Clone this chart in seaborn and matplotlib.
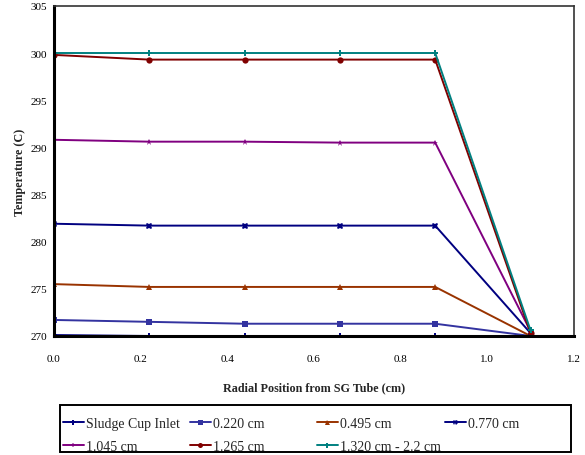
import pandas as pd
import matplotlib.pyplot as plt
import matplotlib.patches as mpatches
import seaborn as sns

# radial positions (cm)
radial_pos = [0.0, 0.22, 0.44, 0.66, 0.88, 1.1]

# temperatures (C) for each sludge height
sludge_inlet = [270.1, 270.0, 270.0, 270.0, 270.0, 270.0]
h_0220 = [271.7, 271.5, 271.3, 271.3, 271.3, 270.0]
h_0495 = [275.5, 275.2, 275.2, 275.2, 275.2, 270.0]
h_0770 = [281.9, 281.7, 281.7, 281.7, 281.7, 270.3]
h_1045 = [290.8, 290.6, 290.6, 290.5, 290.5, 270.5]
h_1265 = [299.8, 299.3, 299.3, 299.3, 299.3, 270.3]
h_1320 = [300.0, 300.0, 300.0, 300.0, 300.0, 270.6]

labels = ['Sludge Cup Inlet', '0.220 cm', '0.495 cm', '0.770 cm',
          '1.045 cm', '1.265 cm', '1.320 cm - 2.2 cm']
series = [sludge_inlet, h_0220, h_0495, h_0770, h_1045, h_1265, h_1320]

rows = []
for lab, vals in zip(labels, series):
    for x, y in zip(radial_pos, vals):
        rows.append({'pos': x, 'temp': y, 'height': lab})
df = pd.DataFrame(rows)

colors = ['#000080', '#3333A0', '#993300', '#000080', '#800080', '#800000', '#008080']
markers = ['P', 's', '^', 'X', '*', 'o', 'P']
palette = dict(zip(labels, colors))
marker_map = dict(zip(labels, markers))

sns.set_style('white')
plt.rcParams['font.family'] = ['Liberation Serif', 'DejaVu Serif']

fig = plt.figure(figsize=(5.85, 4.56), dpi=100)
ax = fig.add_axes([0.092, 0.261, 0.889, 0.724])

sns.lineplot(data=df, x='pos', y='temp', hue='height', style='height',
             palette=palette, markers=marker_map, dashes=False,
             markersize=4.5, linewidth=1.4, markeredgewidth=0,
             ax=ax, legend=True)

ax.set_xlim(0, 1.2)
ax.set_ylim(270, 305)
ax.set_xticks([0, 0.2, 0.4, 0.6, 0.8, 1.0, 1.2])
ax.set_xticklabels(['0.0', '0.2', '0.4', '0.6', '0.8', '1.0', '1.2'])
ax.set_yticks(range(270, 306, 5))
ax.tick_params(axis='both', direction='inout', length=6, width=1.5,
               labelsize=8, colors='black', pad=10)
ax.tick_params(axis='y', pad=2)

for side in ['left', 'bottom']:
    ax.spines[side].set_linewidth(2.2)
    ax.spines[side].set_color('black')
for side in ['top', 'right']:
    ax.spines[side].set_linewidth(1.2)
    ax.spines[side].set_color('#333333')

ax.set_xlabel('Radial Position from SG Tube (cm)', fontsize=8.7,
              fontweight='bold', labelpad=13)
ax.set_ylabel('Temperature (C)', fontsize=8.7, fontweight='bold', labelpad=3)

# legend: grab seaborn's handles, then lay out one column at a time
handles, labs = ax.get_legend_handles_labels()
ax.get_legend().remove()
lookup = dict(zip(labs, handles))
columns = [['Sludge Cup Inlet', '1.045 cm'], ['0.220 cm', '1.265 cm'],
           ['0.495 cm', '1.320 cm - 2.2 cm'], ['0.770 cm']]
W, H = 585, 456
col_x = [63, 190, 317, 445]
for cx, col in zip(col_x, columns):
    fig.legend([lookup[c] for c in col], col, loc='upper left',
               bbox_to_anchor=(cx / W, (H - 418) / H),
               bbox_transform=fig.transFigure, borderaxespad=0,
               frameon=False, fontsize=10, handlelength=1.5,
               handletextpad=0.15, borderpad=0, labelspacing=0.7,
               markerscale=0.8)
fig.patches.append(mpatches.Rectangle((60 / W, 3 / H), 511 / W, 403 / H - 356 / H,
                                      transform=fig.transFigure, fill=False,
                                      edgecolor='black', linewidth=1.4))

fig.savefig('out.png', dpi=100)
